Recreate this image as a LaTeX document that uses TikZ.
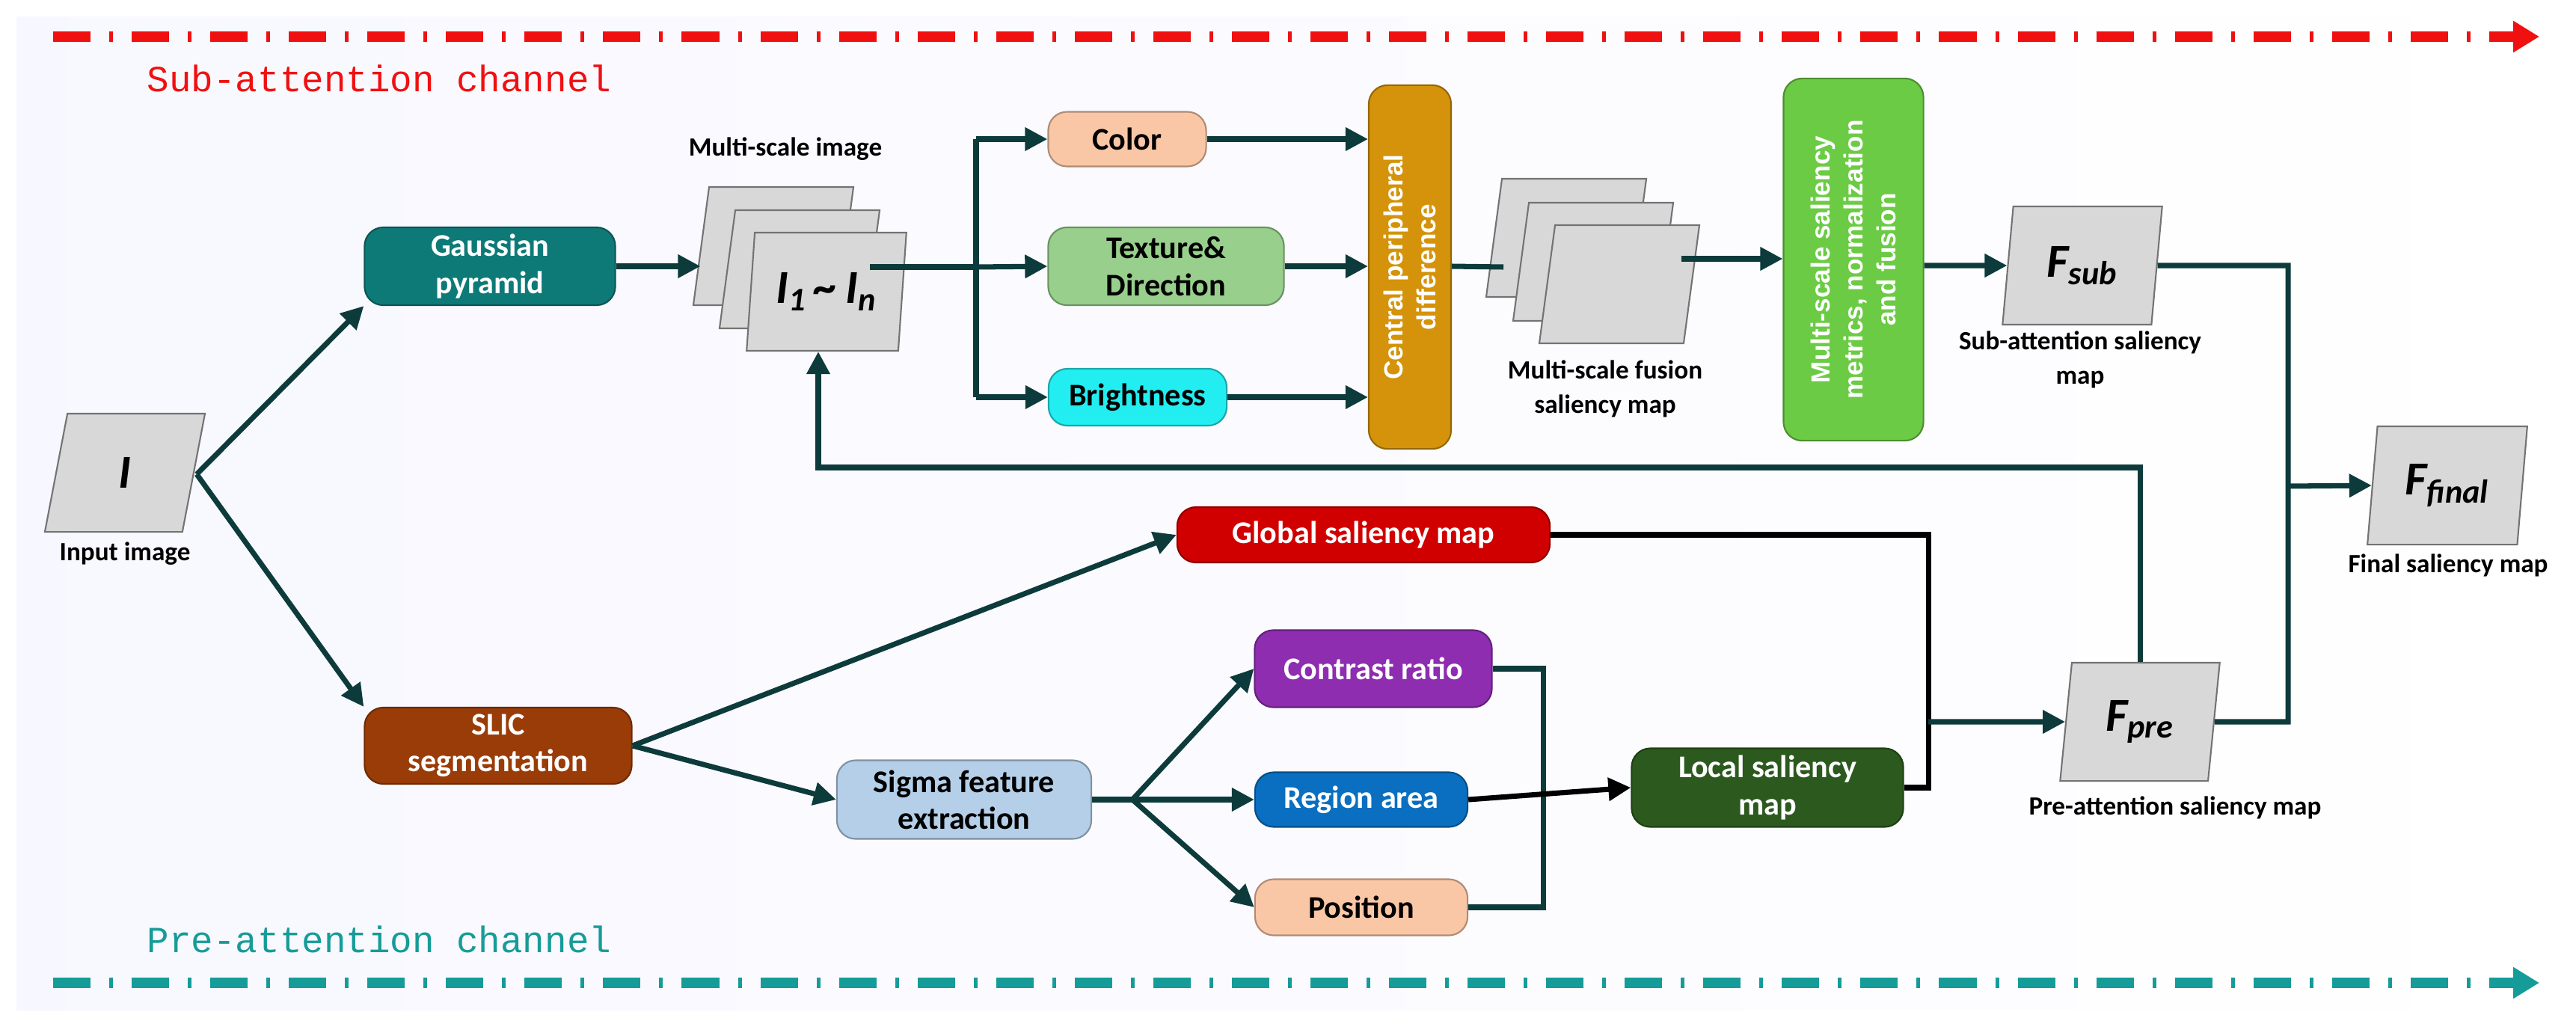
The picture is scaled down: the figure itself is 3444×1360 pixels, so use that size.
\documentclass[tikz,border=0pt]{standalone}
\usepackage{fontspec}
\setmainfont{Carlito}
\newfontfamily\chanfont{Liberation Mono}
\newfontfamily\boxsans{Liberation Sans}
\usetikzlibrary{shapes.geometric,arrows.meta,calc}
\definecolor{ln}{HTML}{0D3B3B}
\definecolor{sheet}{HTML}{D8D8D8}
\definecolor{cteal}{HTML}{0E7A78}
\definecolor{cpeach}{HTML}{FAC7A6}
\definecolor{ctex}{HTML}{98CF8C}
\definecolor{ccyan}{HTML}{22EEF2}
\definecolor{cgold}{HTML}{D4930A}
\definecolor{cmsg}{HTML}{6CCB45}
\definecolor{cred}{HTML}{D00000}
\definecolor{cpurp}{HTML}{8E2DB0}
\definecolor{cblue}{HTML}{0A6FC0}
\definecolor{cdkg}{HTML}{2C5A1E}
\definecolor{cbrown}{HTML}{9A3C07}
\definecolor{csig}{HTML}{B5CFE8}
\definecolor{chred}{HTML}{F01010}
\definecolor{chteal}{HTML}{169C98}
\begin{document}
\begin{tikzpicture}[x=0.01cm,y=-0.01cm,
  box/.style={rounded corners=0.25cm,draw=#1!70!black,line width=0.6pt,fill=#1,align=center,font=\bfseries\fontsize{12}{14}\selectfont,inner sep=2pt},
  wbox/.style={box=#1,text=white},
  sheetn/.style={trapezium,trapezium left angle=83,trapezium right angle=97,trapezium stretches=true,fill=sheet,draw=black!55,line width=0.6pt,minimum width=2.14cm,minimum height=1.58cm,font=\bfseries\itshape\fontsize{18}{20}\selectfont},
  lab/.style={font=\bfseries\fontsize{10}{13}\selectfont,align=center},
  con/.style={line width=2pt,draw=ln},
  arr/.style={con,-{Triangle[length=0.3cm,width=0.3cm]}},
  vtext/.style={rotate=90,font=\boxsans\bfseries\fontsize{10}{12.5}\selectfont,text=white,align=center}
]
\useasboundingbox (0,0) rectangle (3444,1360);
\fill[white] (0,0) rectangle (3444,1360);
\shade[left color=black!4!blue!3!white,right color=white] (22,22) rectangle (3444,1350);

% channels
\draw[chred,line width=4pt,dash pattern=on 0.5cm off 0.25cm on 0.05cm off 0.25cm,-{Triangle[length=0.35cm,width=0.4cm]}] (71,49) -- (3395,49);
\node[text=chred,font=\chanfont\fontsize{14}{16}\selectfont] (subch) at (507,105) {Sub-attention channel};
\draw[chteal,line width=4pt,dash pattern=on 0.5cm off 0.25cm on 0.05cm off 0.25cm,-{Triangle[length=0.35cm,width=0.4cm]}] (71,1314) -- (3395,1314);
\node[text=chteal,font=\chanfont\fontsize{14}{16}\selectfont] (prech) at (507,1256) {Pre-attention channel};

% input
\node[sheetn] (I) at (167,632) {I};
\node[lab] (Il) at (167,740) {Input image};

% boxes
\node[wbox=cteal,minimum width=3.35cm,minimum height=1.04cm] (G) at (655,356) {Gaussian\\pyramid};
\node[wbox=cbrown,minimum width=3.57cm,minimum height=1.02cm] (S) at (666,997) {SLIC\\segmentation};

% stack 1
\node[sheetn] (b1) at (1034,329) {};
\node[sheetn] (m1) at (1069,360) {};
\node[sheetn] (f1) at (1105,390) {I\textsubscript{1}\,\textasciitilde\,I\textsubscript{n}};
\node[lab] (msl) at (1050,199) {Multi-scale image};

\node[box=cpeach,minimum width=2.11cm,minimum height=0.73cm] (col) at (1507,186) {Color};
\node[box=ctex,minimum width=3.15cm,minimum height=1.04cm] (tex) at (1559,356) {Texture\&\\Direction};
\node[box=ccyan,minimum width=2.38cm,minimum height=0.76cm] (bri) at (1521,531) {Brightness};

\node[box=cgold,minimum width=1.1cm,minimum height=4.86cm] (cpd) at (1885,357) {};
\node[vtext] at (cpd.center) {Central peripheral\\difference};

% stack 2
\node[sheetn] (b2) at (2094,318) {};
\node[sheetn] (m2) at (2130,350) {};
\node[sheetn] (f2) at (2165,380) {};
\node[lab] (mfl) at (2146,520) {Multi-scale fusion\\saliency map};

\node[box=cmsg,minimum width=1.87cm,minimum height=4.84cm] (msn) at (2478,347) {};
\node[vtext] at (msn.center) {Multi-scale saliency\\metrics, normalization\\and fusion};

\node[sheetn] (Fs) at (2784,355) {F\textsubscript{sub}};
\node[lab] (Fsl) at (2781,481) {Sub-attention saliency\\map};

\node[sheetn] (Ff) at (3272,649) {F\textsubscript{final}};
\node[lab] (Ffl) at (3273,756) {Final saliency map};

\node[sheetn] (Fp) at (2861,965) {F\textsubscript{pre}};
\node[lab] (Fpl) at (2908,1080) {Pre-attention saliency map};

\node[wbox=cred,minimum width=4.98cm,minimum height=0.74cm] (gl) at (1823,715) {Global saliency map};
\node[box=csig,minimum width=3.4cm,minimum height=1.05cm] (sig) at (1289,1069) {Sigma feature\\extraction};
\node[wbox=cpurp,minimum width=3.17cm,minimum height=1.03cm] (cr) at (1836,894) {Contrast ratio};
\node[wbox=cblue,minimum width=2.84cm,minimum height=0.73cm] (ra) at (1820,1069) {Region area};
\node[box=cpeach,minimum width=2.84cm,minimum height=0.75cm] (po) at (1820,1213) {Position};
\node[wbox=cdkg,minimum width=3.63cm,minimum height=1.05cm] (loc) at (2363,1053) {Local saliency\\map};

% coordinates
\coordinate (i1) at (263,634);
\coordinate (o1) at (1163,357);
\coordinate (sp1) at (1305,357);
\coordinate (sg) at (1514,1069);
\coordinate (fb) at (1094,625);
\coordinate (j1) at (2063,894);
\coordinate (j2) at (2578,965);
\coordinate (j3) at (3059,650);

% connectors
\draw[arr] (i1) -- (G.south west);
\draw[arr] (i1) -- (S.north west);
\draw[arr] (G.east) -- (G.east -| b1.west);
\draw[con] (o1) -- (sp1);
\draw[con] (sp1 |- col) -- (sp1 |- bri);
\draw[arr] (sp1 |- col) -- (col.west);
\draw[arr] (sp1) -- (tex.west);
\draw[arr] (sp1 |- bri) -- (bri.west);
\draw[arr] (col.east) -- (col.east -| cpd.west);
\draw[arr] (tex.east) -- (tex.east -| cpd.west);
\draw[arr] (bri.east) -- (bri.east -| cpd.west);
\draw[con] (cpd.east |- tex) -- (2010,357);
\draw[arr] (2248,346) -- (msn.west |- 0,346);
\draw[arr] (msn.east |- Fs) -- (Fs.west);
\draw[con] (Fs.east) -- (Fs.east -| j3) -- (j3 |- Fp) -- (Fp.east);
\draw[arr] (j3) -- (Ff.west);
\draw[arr] (Fp.north) |- (fb) -- (f1.south -| fb);
\draw[arr] (S.east) -- (gl.west);
\draw[arr] (S.east) -- (sig.west);
\draw[con] (sig.east) -- (sg);
\draw[arr] (sg) -- (cr.west);
\draw[arr] (sg) -- (ra.west);
\draw[arr] (sg) -- (po.west);
\draw[con] (cr.east) -| (j1) |- (po.east);
\draw[arr,draw=black] (ra.east) -- (loc.west);
\draw[con,draw=black] (gl.east) -| (j2) |- (loc.east);
\draw[arr] (j2) -- (Fp.west);
\end{tikzpicture}
\end{document}
